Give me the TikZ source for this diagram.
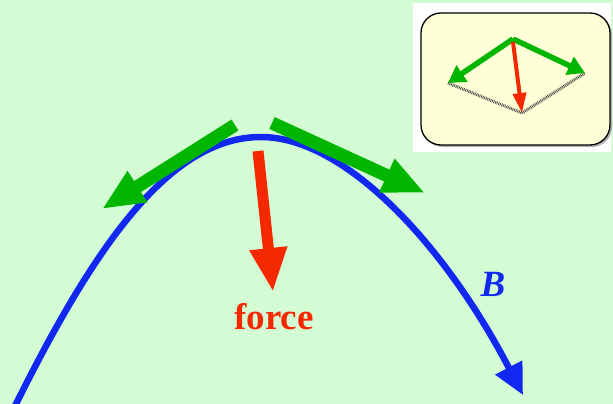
\documentclass[tikz,border=0pt]{standalone}
\usepackage{fontspec}
\setmainfont{Liberation Serif}
\usetikzlibrary{arrows.meta}
\definecolor{bg}{RGB}{212,252,212}
\definecolor{gr}{RGB}{0,182,0}
\definecolor{rd}{RGB}{245,40,0}
\definecolor{bl}{RGB}{16,40,240}
\definecolor{ylw}{RGB}{255,255,215}
\tikzset{
  garrow/.style={draw=gr, line width=13pt, -{Triangle[length=42pt,width=34pt]}},
  rarrow/.style={draw=rd, line width=11pt, -{Triangle[length=44pt,width=35pt]}},
  barrow/.style={draw=bl, line width=6.5pt, -{Triangle[length=31pt,width=29pt]}},
  sgarrow/.style={draw=gr, line width=5.5pt, -{Triangle[length=17pt,width=19pt]}},
  srarrow/.style={draw=rd, line width=4pt, -{Triangle[length=20pt,width=13pt]}},
  dotline/.style={draw=gray!60!black, line width=3pt, dash pattern=on 0.8pt off 0.9pt},
}
\begin{document}
\begin{tikzpicture}[x=1pt,y=-1pt]
\fill[bg] (0,0) rectangle (613,404);
\useasboundingbox (0,0) rectangle (613,404);
% inset
\fill[white] (413,3) rectangle (611,152);
\fill[gray!60, rounded corners=20pt] (423,15) rectangle (612,147);
\draw[black, line width=1.3pt, fill=ylw, rounded corners=20pt] (421,13) rectangle (610,145);
\coordinate (apex) at (513,39);
\coordinate (lt) at (448,83);
\coordinate (rt) at (585,73);
\coordinate (bt) at (522,113);
\draw[dotline] (lt) -- (bt) -- (rt);
\draw[sgarrow] (apex) -- (lt);
\draw[sgarrow] (apex) -- (rt);
\draw[srarrow] (513,42) -- (bt);
% main curve
\coordinate (c0) at (15,406);
\coordinate (ctop) at (261,137);
\coordinate (c1) at (523,395);
\draw[barrow] (c0) .. controls (95,245) and (170,137) .. (ctop)
  .. controls (345,137) and (445,245) .. (c1);
% green arrows
\coordinate (gl0) at (235,125);
\coordinate (gl1) at (102,209);
\coordinate (gr0) at (272,123);
\coordinate (gr1) at (425,193);
\draw[garrow] (gl0) -- (gl1);
\draw[garrow] (gr0) -- (gr1);
% red arrow
\coordinate (r0) at (258,151);
\coordinate (r1) at (273,292);
\draw[rarrow] (r0) -- (r1);
\node[text=rd, font=\fontsize{37}{40}\selectfont\bfseries] (force) at (274,317) {force};
\node[text=bl, font=\fontsize{37}{40}\selectfont\bfseries\itshape] (B) at (493,284) {B};
\end{tikzpicture}
\end{document}
